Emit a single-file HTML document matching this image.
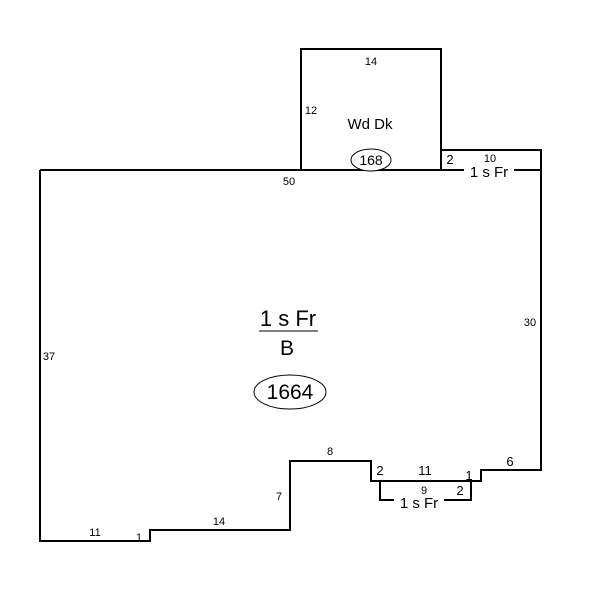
<!DOCTYPE html>
<html><head><style>body{margin:0;background:#fff}</style></head><body>
<svg width="600" height="600" xmlns="http://www.w3.org/2000/svg" style="display:block">
<g fill="none" stroke="#000" stroke-width="2">
<polyline points="301,170 301,49 441,49 441,170"/>
<polyline points="441,170 441,150 541,150 541,170"/>
<polyline points="40,170 541,170"/>
<polyline points="541,150 541,470 481,470 481,481 371,481 371,461 290,461 290,530 150,530 150,541 40,541 40,170"/>
<polyline points="380,481 380,500 471,500 471,481"/>
<line x1="259" y1="331" x2="318" y2="331" stroke-width="1"/>
</g>
<g font-family="Liberation Sans, sans-serif" font-size="11" text-anchor="middle" fill="#000">
<text x="371" y="65">14</text>
<text x="311" y="114">12</text>
<text x="370" y="129" font-size="15">Wd Dk</text>
<ellipse cx="371" cy="160" rx="20" ry="11" fill="#fff" stroke="#000" stroke-width="1"/>
<text x="371" y="165" font-size="14">168</text>
<text x="289" y="185">50</text>
<text x="450" y="164" font-size="13">2</text>
<text x="490" y="162">10</text>
<rect x="464" y="164" width="50" height="14" fill="#fff"/>
<text x="489" y="177" font-size="15">1 s Fr</text>
<text x="530" y="326">30</text>
<text x="49" y="360">37</text>
<text x="288" y="326" font-size="22">1 s Fr</text>
<text x="287" y="355" font-size="21">B</text>
<ellipse cx="290" cy="392" rx="36" ry="17" fill="#fff" stroke="#000" stroke-width="1"/>
<text x="290" y="399" font-size="21">1664</text>
<text x="330" y="455">8</text>
<text x="279" y="500">7</text>
<text x="380" y="475" font-size="13">2</text>
<text x="425" y="475" font-size="13">11</text>
<text x="469" y="480" font-size="13">1</text>
<text x="510" y="466" font-size="13">6</text>
<text x="424" y="494">9</text>
<text x="460" y="495" font-size="13">2</text>
<rect x="394" y="495" width="50" height="14" fill="#fff"/>
<text x="419" y="508" font-size="15">1 s Fr</text>
<text x="95" y="536">11</text>
<text x="139" y="541">1</text>
<text x="219" y="525">14</text>
</g>
</svg>
</body></html>
